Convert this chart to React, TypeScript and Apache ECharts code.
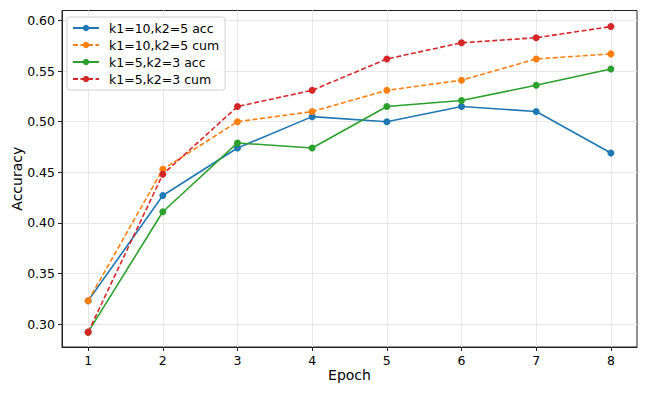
import React, { useEffect, useRef } from "react";
import * as echarts from "echarts";

const epochs = [1, 2, 3, 4, 5, 6, 7, 8];
const seriesNames = ["k1=10,k2=5 acc", "k1=10,k2=5 cum", "k1=5,k2=3 acc", "k1=5,k2=3 cum"];
const k10acc = [0.323, 0.427, 0.474, 0.505, 0.500, 0.515, 0.510, 0.469];
const k10cum = [0.323, 0.453, 0.500, 0.510, 0.531, 0.541, 0.562, 0.567];
const k5acc = [0.292, 0.411, 0.479, 0.474, 0.515, 0.521, 0.536, 0.552];
const k5cum = [0.292, 0.448, 0.515, 0.531, 0.562, 0.578, 0.583, 0.594];
const yTicks = [0.30, 0.35, 0.40, 0.45, 0.50, 0.55, 0.60];
const colors = ["#1f77b4", "#ff7f0e", "#2ca02c", "#d62728"];
const dashed = [false, true, false, true];

const FONT = "DejaVu Sans";

export default function App() {
  const ref = useRef<HTMLDivElement>(null);
  useEffect(() => {
    if (!ref.current) return;
    const chart = echarts.init(ref.current, undefined, { renderer: "svg" });
    const all = [k10acc, k10cum, k5acc, k5cum];
    chart.setOption({
      animation: false,
      backgroundColor: "#fff",
      grid: {
        left: 62, right: 11, top: 10.5, bottom: 49,
        outerBoundsMode: "none", containLabel: false,
        show: true, borderColor: "#222", borderWidth: 1, backgroundColor: "transparent",
      },
      legend: {
        orient: "vertical",
        left: 67, top: 17,
        padding: [4, 6, 4, 5],
        itemWidth: 26, itemHeight: 8, itemGap: 3,
        backgroundColor: "rgba(255,255,255,0.85)",
        borderColor: "#d0d0d0", borderWidth: 1, borderRadius: 3,
        textStyle: { fontFamily: FONT, fontSize: 12.5, color: "#000", padding: [0, 0, 0, 5], lineHeight: 14 },
        data: seriesNames,
      },
      xAxis: {
        type: "value",
        min: 0.65, max: 8.35,
        name: "Epoch", nameLocation: "middle", nameGap: 21, nameMoveOverlap: false,
        nameTextStyle: { fontFamily: FONT, fontSize: 14, color: "#000" },
        axisLine: { show: true, lineStyle: { color: "#222", width: 1 } },
        axisTick: { show: true, length: 4, lineStyle: { color: "#222" }, customValues: epochs },
        axisLabel: { fontFamily: FONT, fontSize: 12.5, color: "#000", margin: 7, customValues: epochs },
        splitLine: { show: true, lineStyle: { color: "#e6e6e6", width: 1 } },
      },
      yAxis: {
        type: "value",
        min: 0.2773, max: 0.6099,
        name: "Accuracy", nameLocation: "middle", nameGap: 38, nameMoveOverlap: false,
        nameTextStyle: { fontFamily: FONT, fontSize: 14, color: "#000" },
        axisLine: { show: true, lineStyle: { color: "#222", width: 1 } },
        axisTick: { show: true, length: 4, lineStyle: { color: "#222" }, customValues: yTicks },
        axisLabel: {
          fontFamily: FONT, fontSize: 12.5, color: "#000", margin: 7,
          customValues: yTicks, formatter: (v: number) => v.toFixed(2),
        },
        splitLine: { show: true, lineStyle: { color: "#e6e6e6", width: 1 } },
      },
      series: all.map((vals, i) => ({
        name: seriesNames[i],
        type: "line",
        data: epochs.map((e, j) => [e, vals[j]]),
        symbol: "circle",
        symbolSize: 7,
        color: colors[i],
        lineStyle: { color: colors[i], width: 1.6, type: dashed[i] ? [5, 2.5] : "solid" },
        itemStyle: { color: colors[i] },
        z: 2 + i,
      })),
    });
    return () => chart.dispose();
  }, []);
  return <div ref={ref} style={{ width: 648, height: 396, position: "absolute", left: 0, top: 0 }} />;
}
